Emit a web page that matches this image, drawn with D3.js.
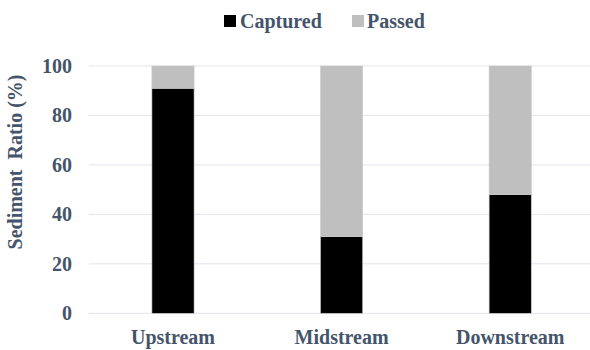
<!DOCTYPE html>
<html>
<head>
<meta charset="utf-8">
<script src="https://cdn.jsdelivr.net/npm/d3@7"></script>
<style>
  html, body { margin: 0; padding: 0; background: #ffffff; }
  svg { display: block; }
</style>
</head>
<body>
<svg id="chart" width="590" height="350"></svg>
<script>
// Sediment share at each reach, stacked to 100 %
const categories = ["Upstream", "Midstream", "Downstream"];
const captured = [91, 31, 48];
const passed = [9, 69, 52];
const seriesNames = ["Captured", "Passed"];
const yTicks = [0, 20, 40, 60, 80, 100];

const textColor = "#44546a";
const fontFamily = "Liberation Serif";
const colors = { Captured: "#000000", Passed: "#bfbfbf" };

const svg = d3.select("#chart");

const x = d3.scaleBand().domain(categories).range([88.7, 594.5]).padding(0);
const y = d3.scaleLinear().domain([0, 100]).range([313.3, 66]);
const barW = x.bandwidth() * 0.25;

// Horizontal gridlines
svg.append("g")
  .selectAll("line")
  .data(yTicks)
  .join("line")
  .attr("x1", 88.7)
  .attr("x2", 594.5)
  .attr("y1", d => y(d))
  .attr("y2", d => y(d))
  .attr("stroke", "#e3e5ec")
  .attr("stroke-width", 1);

// Y axis tick labels
const yAxis = d3.axisLeft(y).tickValues(yTicks).tickSize(0).tickPadding(0);
const yg = svg.append("g").attr("transform", "translate(72,0)").call(yAxis);
yg.select(".domain").remove();
yg.attr("font-family", null).attr("font-size", null);
yg.selectAll("text")
  .attr("fill", textColor)
  .attr("font-family", fontFamily)
  .attr("font-weight", "bold")
  .attr("font-size", 20);

// X axis category labels
const xAxis = d3.axisBottom(x).tickSize(0).tickPadding(0);
const xg = svg.append("g").attr("transform", "translate(0,329)").call(xAxis);
xg.select(".domain").remove();
xg.attr("font-family", null).attr("font-size", null);
xg.selectAll("text")
  .attr("fill", textColor)
  .attr("dy", "0.75em")
  .attr("font-family", fontFamily)
  .attr("font-weight", "bold")
  .attr("font-size", 20);

// Stacked bars
const rows = categories.map((c, i) => ({ category: c, Captured: captured[i], Passed: passed[i] }));
const stacked = d3.stack().keys(seriesNames)(rows);

svg.append("g")
  .selectAll("g")
  .data(stacked)
  .join("g")
  .attr("fill", d => colors[d.key])
  .selectAll("rect")
  .data(d => d)
  .join("rect")
  .attr("x", d => x(d.data.category) + (x.bandwidth() - barW) / 2)
  .attr("width", barW)
  .attr("y", d => y(d[1]))
  .attr("height", d => y(d[0]) - y(d[1]))
  .attr("stroke", "#c8c8c8")
  .attr("stroke-width", 0.6);

// Y axis title
svg.append("text")
  .attr("transform", "translate(22,162) rotate(-90)")
  .attr("text-anchor", "middle")
  .attr("fill", textColor)
  .attr("font-family", fontFamily)
  .attr("font-weight", "bold")
  .attr("font-size", 20)
  .attr("xml:space", "preserve")
  .style("white-space", "pre")
  .text("Sediment  Ratio (%)");

// Legend
const legendItems = [
  { name: "Captured", sx: 224, tx: 240 },
  { name: "Passed", sx: 352, tx: 367 }
];
const lg = svg.append("g");
lg.selectAll("rect")
  .data(legendItems)
  .join("rect")
  .attr("x", d => d.sx)
  .attr("y", 15)
  .attr("width", 12)
  .attr("height", 12)
  .attr("fill", d => colors[d.name]);
lg.selectAll("text")
  .data(legendItems)
  .join("text")
  .attr("x", d => d.tx)
  .attr("y", 27.5)
  .attr("fill", textColor)
  .attr("font-family", fontFamily)
  .attr("font-weight", "bold")
  .attr("font-size", 20)
  .text(d => d.name);
</script>
</body>
</html>
